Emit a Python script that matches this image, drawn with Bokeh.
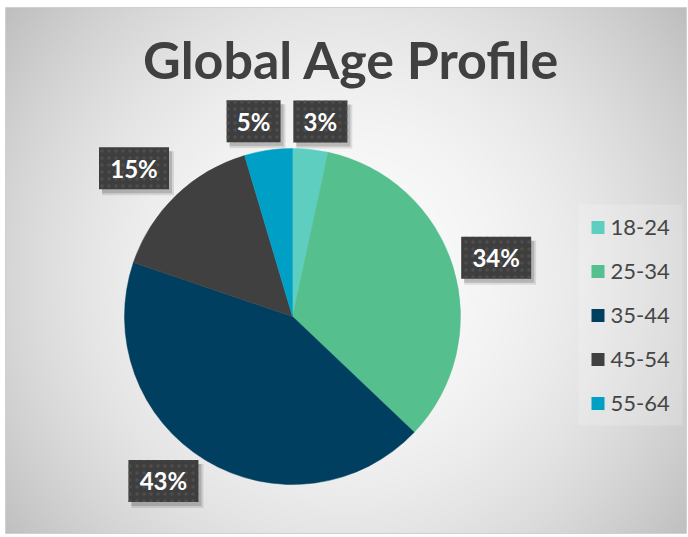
import numpy as np
from bokeh.plotting import figure
from bokeh.models import Range1d, ColumnDataSource
from bokeh.core.properties import value
from bokeh.embed import file_html
from bokeh.resources import INLINE

# ---------------- data ----------------
chart_title = "Global Age Profile"
age_groups = ["18-24", "25-34", "35-44", "45-54", "55-64"]
shares = [3.4, 33.7, 43.1, 15.2, 4.6]
colors = ["#5ECEC0", "#55BF8E", "#003F5F", "#404040", "#00A0C6"]

# ---------------- layout constants ----------------
W, H = 688, 537
CX, CY_PX, R = 292, 316, 168
label_radius = [197, 212, 209, 217, 199]
label_turn_deg = [2, 1, 7, -3, -3]
FONT = "Lato"


def ypx(v):
    return H - v


p = figure(width=W, height=H, x_range=Range1d(0, W), y_range=Range1d(0, H),
           output_backend="svg", toolbar_location=None, min_border=0)
p.axis.visible = False
p.grid.visible = False
p.outline_line_color = None
p.background_fill_color = "white"
p.border_fill_color = "white"

# ---------------- background radial gradient ----------------
bx0, bx1, by0_px, by1_px = 5, 686, 7, 533
nx, ny = bx1 - bx0, by1_px - by0_px
xs = np.arange(nx) + bx0 + 0.5
ys_px = by1_px - (np.arange(ny) + 0.5)  # row 0 is bottom
XX, YY = np.meshgrid(xs, ys_px)
d = np.sqrt((XX - 345) ** 2 + (YY - 275) ** 2) / 400.0
val = np.clip(251 - 52 * d ** 2, 0, 255).astype(np.uint8)
img = np.empty((ny, nx), dtype=np.uint32)
view = img.view(dtype=np.uint8).reshape((ny, nx, 4))
view[:, :, 0] = val
view[:, :, 1] = val
view[:, :, 2] = val
view[:, :, 3] = 255
p.image_rgba(image=[img], x=bx0, y=ypx(by1_px), dw=nx, dh=ny)
p.quad(left=bx0, right=bx1, bottom=ypx(by1_px), top=ypx(by0_px),
       fill_color=None, line_color="#d0d0d0", line_width=1)

# ---------------- title ----------------
p.text(x=[351], y=[ypx(58)], text=[chart_title], text_align="center",
       text_baseline="middle", text_font=value(FONT), text_font_style="bold",
       text_font_size="52px", text_color="#404040")

# ---------------- pie ----------------
total = float(sum(shares))
fr = np.array(shares) / total
cum_end = np.cumsum(fr)
cum_start = cum_end - fr
start_angle = np.pi / 2 - 2 * np.pi * cum_start
end_angle = np.pi / 2 - 2 * np.pi * cum_end
src = ColumnDataSource(dict(start=start_angle, end=end_angle, color=colors, group=age_groups))
p.wedge(x=CX, y=ypx(CY_PX), radius=R, start_angle="start", end_angle="end",
        direction="clock", fill_color="color", line_color="color", line_width=0.5,
        source=src)

# ---------------- data labels ----------------
theta = 2 * np.pi * (cum_start + fr / 2) + np.radians(label_turn_deg)
lr = np.array(label_radius)
lx = CX + lr * np.sin(theta)
ly = ypx(CY_PX) + lr * np.cos(theta)
lab_text = [f"{round(v / total * 100)}%" for v in shares]
lw = np.array([22 + 16 * len(t) for t in lab_text], dtype=float)
lh = 42
p.rect(x=lx + 4, y=ly - 5, width=lw + 2, height=lh + 2, fill_color="black",
       fill_alpha=0.10, line_color=None)
p.rect(x=lx + 3, y=ly - 4, width=lw, height=lh, fill_color="black",
       fill_alpha=0.16, line_color=None)
p.rect(x=lx, y=ly, width=lw, height=lh, fill_color="#3e3e3e", line_color=None,
       hatch_pattern="dot", hatch_color="#4e4e4e", hatch_scale=7, hatch_weight=1)
p.text(x=lx, y=ly, text=lab_text, text_align="center", text_baseline="middle",
       text_font=value(FONT), text_font_style="bold", text_font_size="24px",
       text_color="white")

# ---------------- legend ----------------
leg_rows_px = 227 + 44 * np.arange(len(age_groups))
p.quad(left=578, right=682, bottom=ypx(425), top=ypx(204), fill_color="white",
       fill_alpha=0.18, line_color=None)
p.rect(x=[597.5] * len(age_groups), y=ypx(leg_rows_px), width=13, height=13,
       fill_color=colors, line_color=None)
p.text(x=[610] * len(age_groups), y=ypx(leg_rows_px), text=age_groups,
       text_align="left", text_baseline="middle", text_font=value(FONT),
       text_font_size="22px", text_color="#454545")

open("out.html", "w").write(file_html(p, INLINE))
